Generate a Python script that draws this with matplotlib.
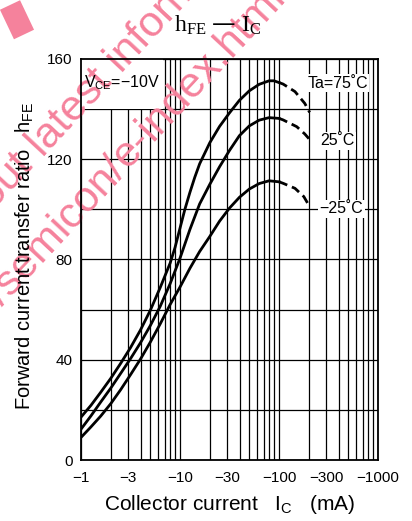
import matplotlib
matplotlib.use("Agg")
import matplotlib.pyplot as plt
from matplotlib.lines import Line2D
from matplotlib.patches import Rectangle

plt.rcParams['font.family'] = ['Liberation Sans', 'DejaVu Sans']

# ---------------- data (|Ic| in mA, hFE) ----------------
ic_75 = [1.0, 1.26, 1.58, 2.0, 2.51, 3.16, 3.98, 5.01, 6.31, 7.94, 8.91, 10.0, 11.2, 12.6,
         14.1, 15.8, 20.0, 25.1, 31.6, 39.8, 50.1, 63.1, 79.4, 89.1, 100]
hfe_75 = [17.1, 21.8, 27.0, 32.6, 38.5, 44.8, 51.8, 59.7, 68.8, 78.5, 84.8, 92.5, 100, 106.8,
          112.8, 118.2, 126.6, 133.1, 138.5, 143.5, 147.3, 149.9, 151.3, 151.3, 150.6]
ic_75_d = [100, 110, 145, 182, 204]
hfe_75_d = [150.6, 150, 147, 142.3, 138.7]

ic_25 = [1.0, 1.26, 1.58, 2.0, 2.51, 3.16, 3.98, 5.01, 6.31, 7.94, 10.0, 12.6,
         15.8, 20.0, 25.1, 31.6, 39.8, 50.1, 63.1, 79.4, 100]
hfe_25 = [12.3, 17.6, 23.1, 28.7, 34.5, 40.4, 46.7, 53.6, 61.3, 70.3, 80.5, 92.0,
          102.2, 110.0, 117.0, 123.5, 129.4, 133.3, 135.6, 136.6, 136.3]
ic_25_d = [100, 110, 151, 182, 209]
hfe_25_d = [136.3, 135.7, 133, 130.1, 127.4]

ic_m25 = [1.0, 1.26, 1.58, 2.0, 2.51, 3.16, 3.98, 5.01, 6.31, 7.94, 10.0, 12.6,
          15.8, 20.0, 25.1, 31.6, 39.8, 50.1, 63.1, 79.4, 100]
hfe_m25 = [9.0, 13.2, 17.5, 22.5, 28.0, 34.0, 40.2, 47.0, 54.3, 62.0, 69.0, 76.5,
           83.2, 89.2, 95.3, 100.5, 104.8, 108.1, 110.3, 111.4, 111.0]
ic_m25_d = [100, 110, 145, 178, 204]
hfe_m25_d = [111.0, 110.4, 108.4, 105.1, 101.1]

x_ticks = [1, 3, 10, 30, 100, 300, 1000]
x_ticklabels = ['\u22121', '\u22123', '\u221210', '\u221230', '\u2212100', '\u2212300', '\u22121000']
y_ticks = [0, 40, 80, 120, 160]
x_grid = [1, 2, 3, 4, 5, 6, 7, 8, 9, 10, 20, 30, 40, 50, 60, 70, 80, 90, 100,
          200, 300, 400, 500, 600, 700, 800, 900, 1000]
y_grid = [0, 20, 40, 60, 80, 100, 120, 140, 160]

curve_labels = ['Ta=75\u02daC', '25\u02daC', '\u221225\u02daC']

W, H = 412, 521
fig = plt.figure(figsize=(W / 100, H / 100), dpi=100)
fig.patch.set_facecolor('white')
ax = fig.add_axes([81 / W, 1 - 460 / H, 297 / W, 401 / H])
ax.set_facecolor('none')
ax.set_xscale('log')
ax.set_xlim(1, 1000)
ax.set_ylim(0, 160)

# grid
for xv in x_grid:
    ax.axvline(xv, color='black', lw=0.9, zorder=0.5)
for yv in y_grid:
    ax.axhline(yv, color='black', lw=0.9, zorder=0.5)

ax.set_xticks(x_ticks)
ax.set_xticklabels(x_ticklabels)
ax.xaxis.set_minor_locator(matplotlib.ticker.NullLocator())
ax.set_yticks(y_ticks)
ax.tick_params(length=0, labelsize=11, pad=6)
ax.tick_params(axis='x', pad=8)
for s in ax.spines.values():
    s.set_linewidth(1.3)
    s.set_color('black')

# white box behind VCE
ax.add_patch(Rectangle((1, 140), 5.8, 20, facecolor='white', edgecolor='none', zorder=1))

# curves
lw = 2.0
for ic, h in [(ic_75, hfe_75), (ic_25, hfe_25), (ic_m25, hfe_m25)]:
    ax.plot(ic, h, color='black', lw=lw, zorder=2, solid_joinstyle='round')
for ic, h in [(ic_75_d, hfe_75_d), (ic_25_d, hfe_25_d), (ic_m25_d, hfe_m25_d)]:
    ax.plot(ic, h, color='black', lw=lw, zorder=2, dashes=(3.2, 1.8))

bb = dict(facecolor='white', edgecolor='none', pad=1.0)
ax.text(390, 150.4, curve_labels[0], ha='center', va='center', fontsize=11.5, bbox=bb, zorder=3)
ax.text(385, 127.3, curve_labels[1], ha='center', va='center', fontsize=11.5, bbox=bb, zorder=3)
ax.text(427, 100.2, curve_labels[2], ha='center', va='center', fontsize=11.5, bbox=bb, zorder=3)
ax.text(1.07, 150.4, 'V$_\\mathregular{CE}$=\u221210V', ha='left', va='center',
        fontsize=11.5, zorder=3)

# watermark
pink = '#f5829c'
def px(x, y):
    return (x / W, 1 - y / H)
wm = dict(transform=fig.transFigure, rotation=47, rotation_mode='anchor', va='baseline',
          fontsize=31, color=pink, zorder=1.5, clip_on=False)
ax.text(*px(43, 158), 'latest information.', ha='left', **wm)
ax.text(*px(34.5, 166.5), 'Please visit following URL about', ha='right', **wm)
ax.text(*px(127, 170), 'e-index.html', ha='left', **wm)
ax.text(*px(127, 170), 'http://panasonic.co.jp/semicon/', ha='right', **wm)
bar = Line2D([10 / W, 24 / W], [1 - 5 / H, 1 - 34.5 / H], transform=fig.transFigure,
             color=pink, lw=16, solid_capstyle='butt', zorder=1.5, clip_on=False)
ax.add_line(bar)

# title and axis labels
fig.text(217.5 / W, 1 - 25 / H, '$\\mathregular{h_{FE}}$ \u2014 $\\mathregular{I_C}$',
         ha='center', va='center', fontsize=17, family=['Liberation Serif', 'DejaVu Serif'], zorder=5)
fig.text(25 / W, 1 - 256 / H, 'Forward current transfer ratio   h$_\\mathregular{FE}$',
         rotation=90, ha='center', va='center', fontsize=14.5, zorder=5)
fig.text(229 / W, 1 - 505 / H, 'Collector current   I$_\\mathregular{C}$   (mA)',
         ha='center', va='center', fontsize=15, zorder=5)

fig.savefig('out.png', dpi=100)
